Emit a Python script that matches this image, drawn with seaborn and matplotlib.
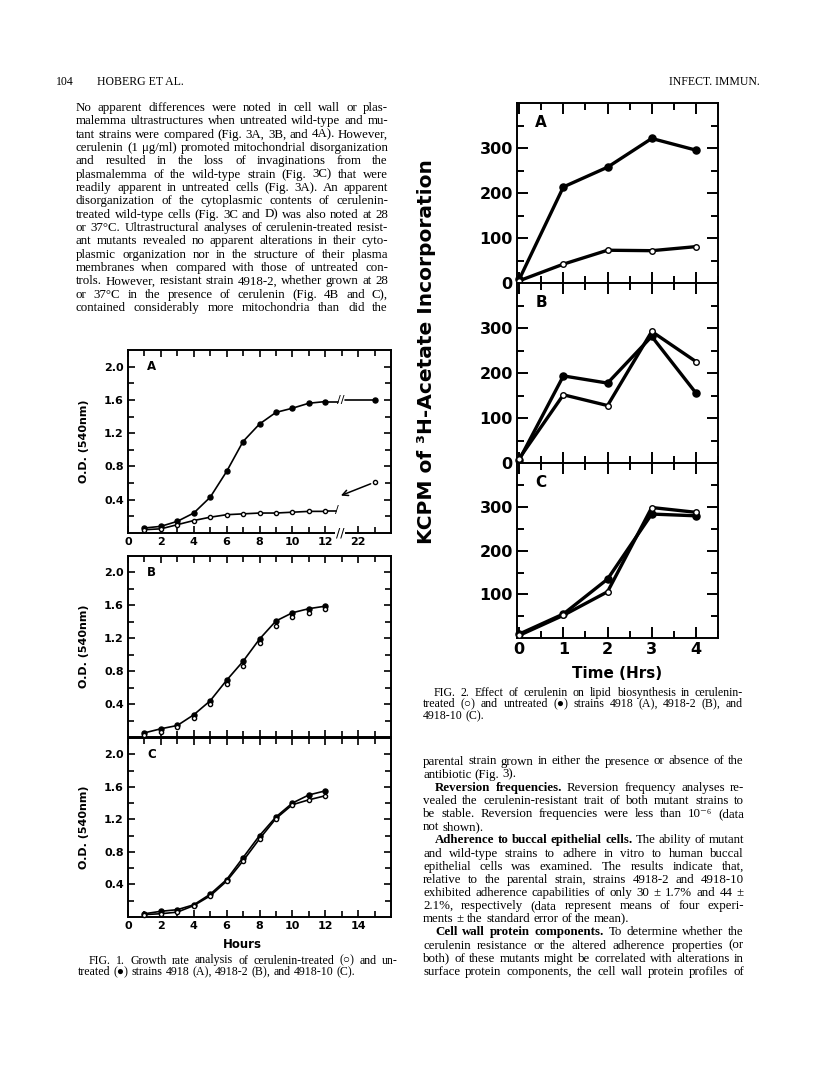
import matplotlib
matplotlib.use("Agg")
import matplotlib.pyplot as plt
import seaborn as sns
import pandas as pd
import numpy as np

# ---- data ----
fig1_hours = [1, 2, 3, 4, 5, 6, 7, 8, 9, 10, 11, 12]
fig1a_late_hour = 23
fig1a_closed = [0.06, 0.08, 0.14, 0.24, 0.43, 0.74, 1.10, 1.31, 1.45, 1.50, 1.56, 1.58]
fig1a_closed_late = 1.60
fig1a_open = [0.04, 0.05, 0.10, 0.15, 0.19, 0.22, 0.23, 0.24, 0.24, 0.25, 0.26, 0.26]
fig1a_open_late = 0.61
fig1b_closed = [0.05, 0.10, 0.14, 0.27, 0.44, 0.69, 0.92, 1.19, 1.41, 1.51, 1.56, 1.59]
fig1b_open = [0.03, 0.06, 0.12, 0.23, 0.40, 0.65, 0.86, 1.14, 1.35, 1.46, 1.51, 1.55]
fig1c_closed = [0.04, 0.07, 0.09, 0.15, 0.28, 0.46, 0.73, 1.00, 1.23, 1.40, 1.50, 1.55]
fig1c_open = [0.03, 0.04, 0.06, 0.14, 0.26, 0.44, 0.69, 0.96, 1.21, 1.38, 1.44, 1.49]
fig1_yticks = [0.4, 0.8, 1.2, 1.6, 2.0]

fig2_time = [0, 1, 2, 3, 4]
fig2a_closed = [8, 214, 258, 322, 296]
fig2a_open = [5, 42, 73, 72, 81]
fig2b_closed = [7, 194, 178, 282, 156]
fig2b_open = [10, 152, 128, 293, 226]
fig2c_closed = [9, 55, 135, 284, 280]
fig2c_open = [6, 52, 106, 299, 288]

left_body = [
    "No apparent differences were noted in cell wall or plas-",
    "malemma ultrastructures when untreated wild-type and mu-",
    "tant strains were compared (Fig. 3A, 3B, and 4A). However,",
    "cerulenin (1 \u03bcg/ml) promoted mitochondrial disorganization",
    "and resulted in the loss of invaginations from the",
    "plasmalemma of the wild-type strain (Fig. 3C) that were",
    "readily apparent in untreated cells (Fig. 3A). An apparent",
    "disorganization of the cytoplasmic contents of cerulenin-",
    "treated wild-type cells (Fig. 3C and D) was also noted at 28",
    "or 37\u00b0C. Ultrastructural analyses of cerulenin-treated resist-",
    "ant mutants revealed no apparent alterations in their cyto-",
    "plasmic organization nor in the structure of their plasma",
    "membranes when compared with those of untreated con-",
    "trols. However, resistant strain 4918-2, whether grown at 28",
    "or 37\u00b0C in the presence of cerulenin (Fig. 4B and C),",
    "contained considerably more mitochondria than did the",
]

# (text, indent px, number of bold words, justified)
right_body = [
    ("parental strain grown in either the presence or absence of the", 0, 0, True),
    ("antibiotic (Fig. 3).", 0, 0, False),
    ("Reversion frequencies. Reversion frequency analyses re-", 12, 2, True),
    ("vealed the cerulenin-resistant trait of both mutant strains to", 0, 0, True),
    ("be stable. Reversion frequencies were less than 10\u207b\u2076 (data", 0, 0, True),
    ("not shown).", 0, 0, False),
    ("Adherence to buccal epithelial cells. The ability of mutant", 12, 5, True),
    ("and wild-type strains to adhere in vitro to human buccal", 0, 0, True),
    ("epithelial cells was examined. The results indicate that,", 0, 0, True),
    ("relative to the parental strain, strains 4918-2 and 4918-10", 0, 0, True),
    ("exhibited adherence capabilities of only 30 \u00b1 1.7% and 44 \u00b1", 0, 0, True),
    ("2.1%, respectively (data represent means of four experi-", 0, 0, True),
    ("ments \u00b1 the standard error of the mean).", 0, 0, False),
    ("Cell wall protein components. To determine whether the", 12, 4, True),
    ("cerulenin resistance or the altered adherence properties (or", 0, 0, True),
    ("both) of these mutants might be correlated with alterations in", 0, 0, True),
    ("surface protein components, the cell wall protein profiles of", 0, 0, True),
]

fig1_caption = [
    ("FIG. 1. Growth rate analysis of cerulenin-treated (\u25cb) and un-", 11, 0, True),
    ("treated (\u25cf) strains 4918 (A), 4918-2 (B), and 4918-10 (C).", 0, 0, False),
]
fig2_caption = [
    ("FIG. 2. Effect of cerulenin on lipid biosynthesis in cerulenin-", 11, 0, True),
    ("treated (\u25cb) and untreated (\u25cf) strains 4918 (A), 4918-2 (B), and", 0, 0, True),
    ("4918-10 (C).", 0, 0, False),
]

# ---- setup ----
sns.set_style("ticks")
plt.rcParams["font.family"] = ["DejaVu Sans"]
plt.rcParams["axes.linewidth"] = 1.4
for key in ["text.color", "axes.labelcolor", "xtick.color", "ytick.color", "axes.edgecolor"]:
    plt.rcParams[key] = "black"
SERIF = ["Liberation Serif", "DejaVu Serif"]

W, H = 816, 1075
fig = plt.figure(figsize=(W / 100, H / 100), dpi=100)
fig.patch.set_facecolor("white")
renderer = fig.canvas.get_renderer()


def px_axes(x0, y0, x1, y1):
    return fig.add_axes([x0 / W, 1 - y1 / H, (x1 - x0) / W, (y1 - y0) / H])


def draw(ax, x, y, filled, lw, size, line=True):
    df = pd.DataFrame({"x": x, "y": y})
    if line:
        sns.lineplot(data=df, x="x", y="y", ax=ax, color="black", linewidth=lw,
                     estimator=None, sort=False)
    sns.scatterplot(data=df, x="x", y="y", ax=ax, s=size,
                    color="black" if filled else "white", edgecolor="black",
                    linewidth=1.0, zorder=4, clip_on=False)
    ax.set_xlabel("")
    ax.set_ylabel("")


def break_pos(h):
    # x axis of Fig. 1A is broken between 12 and 22 h
    return h if h <= 12 else h - 8


def style_fig1(ax, letter, xlabels):
    ax.set_xlim(0, 16)
    ax.set_ylim(0, 2.2)
    ax.set_yticks(fig1_yticks)
    ax.set_yticklabels([f"{v:.1f}" for v in fig1_yticks])
    ax.set_yticks(np.arange(0.2, 2.2, 0.2), minor=True)
    ax.set_xticks(range(0, 16, 2))
    ax.set_xticks(range(1, 16), minor=True)
    ax.set_xticklabels(xlabels if xlabels else [])
    ax.tick_params(which="both", direction="in", top=True, right=True,
                   width=1.2, labelsize=8, pad=3)
    ax.tick_params(which="major", length=5)
    ax.tick_params(which="minor", length=4)
    for t in ax.get_xticklabels() + ax.get_yticklabels():
        t.set_fontweight("bold")
    ax.set_ylabel("O.D. (540nm)", fontsize=8, fontweight="bold")
    ax.yaxis.set_label_coords(-0.148, 0.5)
    ax.text(0.09, 0.91, letter, transform=ax.transAxes, fontsize=8.5,
            fontweight="bold", va="center", ha="center")


def style_fig2(ax, letter, yticks, xlabels):
    ax.set_xlim(-0.05, 4.5)
    ax.set_ylim(0, 401)
    ax.set_yticks(yticks)
    ax.set_yticklabels([str(v) for v in yticks])
    ax.set_yticks(np.arange(50, 400, 50), minor=True)
    ax.set_xticks(fig2_time)
    ax.set_xticks(np.arange(0.5, 4.6, 0.5), minor=True)
    ax.set_xticklabels([str(v) for v in fig2_time] if xlabels else [])
    ax.tick_params(which="both", direction="in", top=True, right=True,
                   width=1.4, labelsize=11.5, pad=3)
    ax.tick_params(which="major", length=8)
    ax.tick_params(which="minor", length=5)
    for t in ax.get_xticklabels() + ax.get_yticklabels():
        t.set_fontweight("bold")
    ax.text(0.12, 0.89, letter, transform=ax.transAxes, fontsize=11,
            fontweight="bold", va="center", ha="center")


# ---- Fig. 1 ----
ax1a = px_axes(128, 350, 391, 533)
ax1b = px_axes(128, 556, 391, 737)
ax1c = px_axes(128, 738, 391, 917)

draw(ax1a, fig1_hours, fig1a_closed, True, 1.2, 13)
draw(ax1a, fig1_hours, fig1a_open, False, 1.2, 9)
draw(ax1a, [break_pos(fig1a_late_hour)], [fig1a_closed_late], True, 1.2, 13, line=False)
draw(ax1a, [break_pos(fig1a_late_hour)], [fig1a_open_late], False, 1.2, 9, line=False)
ax1a.plot([12, 12.75], [fig1a_closed[-1], fig1a_closed[-1]], color="black", lw=1.2)
ax1a.plot([13.2, break_pos(fig1a_late_hour)], [fig1a_closed_late, fig1a_closed_late],
          color="black", lw=1.2)
ax1a.plot([12, 12.65], [fig1a_open[-1], fig1a_open[-1]], color="black", lw=1.2)
ax1a.annotate("", xy=(12.95, 0.45), xytext=(break_pos(fig1a_late_hour), fig1a_open_late),
              arrowprops=dict(arrowstyle="->", lw=1.1, color="black", shrinkA=3, shrinkB=0))
ax1a.text(12.95, fig1a_closed_late, "//", fontsize=8, ha="center", va="center")
ax1a.text(12.7, fig1a_open[-1] + 0.02, "/", fontsize=8, ha="center", va="center")
ax1a.text(12.9, 0.0, "//", fontsize=9, ha="center", va="center", clip_on=False,
          bbox=dict(fc="white", ec="none", pad=0.6))
style_fig1(ax1a, "A", ["0", "2", "4", "6", "8", "10", "12", "22"])

draw(ax1b, fig1_hours, fig1b_closed, True, 1.2, 13)
draw(ax1b, fig1_hours, fig1b_open, False, 1.2, 9, line=False)
style_fig1(ax1b, "B", None)

draw(ax1c, fig1_hours, fig1c_closed, True, 1.2, 13)
draw(ax1c, fig1_hours, fig1c_open, False, 1.2, 9)
style_fig1(ax1c, "C", [str(v) for v in range(0, 16, 2)])

fig.text(242 / W, 1 - 944 / H, "Hours", fontsize=8.5, fontweight="bold",
         ha="center", va="center")

# ---- Fig. 2 ----
ax2a = px_axes(517, 103, 718, 283)
ax2b = px_axes(517, 283, 718, 463)
ax2c = px_axes(517, 463, 718, 638)

for ax, closed, opened, letter, yt, xl in [
    (ax2a, fig2a_closed, fig2a_open, "A", [0, 100, 200, 300], False),
    (ax2b, fig2b_closed, fig2b_open, "B", [0, 100, 200, 300], False),
    (ax2c, fig2c_closed, fig2c_open, "C", [100, 200, 300], True),
]:
    draw(ax, fig2_time, closed, True, 2.4, 26)
    draw(ax, fig2_time, opened, False, 2.4, 16)
    style_fig2(ax, letter, yt, xl)

fig.text(617 / W, 1 - 674 / H, "Time (Hrs)", fontsize=11, fontweight="bold",
         ha="center", va="center")
fig.text(427 / W, 1 - 352 / H, "KCPM of \u00b3H-Acetate Incorporation", fontsize=14.5,
         fontweight="bold", rotation=90, ha="center", va="center")


# ---- page text ----
def word_width(s, size, weight):
    t = fig.text(0, 0, s, fontsize=size, fontweight=weight, family=SERIF)
    w = t.get_window_extent(renderer).width
    t.remove()
    return w


def set_lines(lines, x0, x1, y_first, dy, size):
    space = word_width("a b", size, "normal") - word_width("ab", size, "normal")
    for i, (text, indent, nbold, justify) in enumerate(lines):
        words = text.split(" ")
        weights = ["bold" if k < nbold else "normal" for k in range(len(words))]
        widths = [word_width(w, size, wt) for w, wt in zip(words, weights)]
        start = x0 + indent
        if justify and len(words) > 1:
            gap = (x1 - start - sum(widths)) / (len(words) - 1)
        else:
            gap = space
        x = start
        y = y_first + i * dy + 3.5
        for w, wt, wd in zip(words, weights, widths):
            fig.text(x / W, 1 - y / H, w, fontsize=size, fontweight=wt, family=SERIF,
                     ha="left", va="baseline")
            x += wd + gap


set_lines([(t, 0, 0, True) for t in left_body], 76, 388, 107.3, 13.36, 9.3)
set_lines(right_body, 423, 744, 761, 13.15, 9.3)
set_lines(fig1_caption, 78, 398, 960, 11.7, 8.6)
set_lines(fig2_caption, 423, 743, 692.3, 11.5, 8.6)

fig.text(56 / W, 1 - 85 / H, "104", fontsize=8.5, family=SERIF, va="baseline")
fig.text(97 / W, 1 - 85 / H, "HOBERG ET AL.", fontsize=8.5, family=SERIF, va="baseline")
fig.text(760 / W, 1 - 85 / H, "INFECT. IMMUN.", fontsize=8.5, family=SERIF,
         va="baseline", ha="right")

fig.savefig("out.png", dpi=100, facecolor="white")
